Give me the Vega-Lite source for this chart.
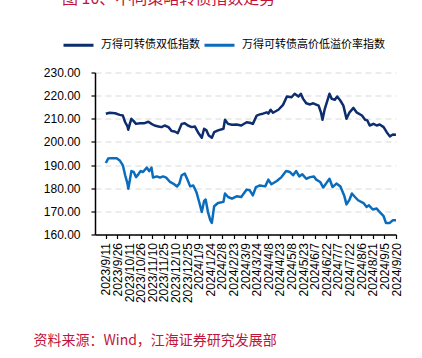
{
  "$schema": "https://vega.github.io/schema/vega-lite/v6.json",
  "autosize": "none",
  "width": 301,
  "height": 162,
  "padding": {"left": 95, "top": 72.5, "right": 26, "bottom": 123.5},
  "background": "white",
  "title": {
    "text": "图 10、不同策略转债指数走势",
    "anchor": "start",
    "frame": "group",
    "font": "Noto Sans CJK SC",
    "fontSize": 16,
    "fontWeight": "normal",
    "color": "#c0143c",
    "dx": -33,
    "dy": -18
  },
  "config": {
    "view": {"stroke": null},
    "font": "Liberation Sans"
  },
  "data": {
    "values": [
      {"date": "2023-09-11", "series": "万得可转债双低指数", "value": 212.2},
      {"date": "2023-09-16", "series": "万得可转债双低指数", "value": 212.6},
      {"date": "2023-09-23", "series": "万得可转债双低指数", "value": 212.4},
      {"date": "2023-09-29", "series": "万得可转债双低指数", "value": 211.7},
      {"date": "2023-10-03", "series": "万得可转债双低指数", "value": 211.4},
      {"date": "2023-10-06", "series": "万得可转债双低指数", "value": 208.5},
      {"date": "2023-10-09", "series": "万得可转债双低指数", "value": 206.7},
      {"date": "2023-10-10", "series": "万得可转债双低指数", "value": 205.3},
      {"date": "2023-10-12", "series": "万得可转债双低指数", "value": 207.8},
      {"date": "2023-10-14", "series": "万得可转债双低指数", "value": 210.0},
      {"date": "2023-10-17", "series": "万得可转债双低指数", "value": 209.0},
      {"date": "2023-10-20", "series": "万得可转债双低指数", "value": 207.8},
      {"date": "2023-10-25", "series": "万得可转债双低指数", "value": 208.1},
      {"date": "2023-10-31", "series": "万得可转债双低指数", "value": 208.1},
      {"date": "2023-11-05", "series": "万得可转债双低指数", "value": 208.7},
      {"date": "2023-11-09", "series": "万得可转债双低指数", "value": 207.8},
      {"date": "2023-11-13", "series": "万得可转债双低指数", "value": 207.1},
      {"date": "2023-11-18", "series": "万得可转债双低指数", "value": 206.7},
      {"date": "2023-11-22", "series": "万得可转债双低指数", "value": 206.4},
      {"date": "2023-11-26", "series": "万得可转债双低指数", "value": 207.1},
      {"date": "2023-12-01", "series": "万得可转债双低指数", "value": 206.4},
      {"date": "2023-12-05", "series": "万得可转债双低指数", "value": 204.7},
      {"date": "2023-12-09", "series": "万得可转债双低指数", "value": 204.5},
      {"date": "2023-12-13", "series": "万得可转债双低指数", "value": 203.8},
      {"date": "2023-12-18", "series": "万得可转债双低指数", "value": 207.8},
      {"date": "2023-12-22", "series": "万得可转债双低指数", "value": 208.1},
      {"date": "2023-12-26", "series": "万得可转债双低指数", "value": 207.1},
      {"date": "2023-12-31", "series": "万得可转债双低指数", "value": 206.4},
      {"date": "2024-01-04", "series": "万得可转债双低指数", "value": 206.7},
      {"date": "2024-01-08", "series": "万得可转债双低指数", "value": 204.2},
      {"date": "2024-01-13", "series": "万得可转债双低指数", "value": 201.8},
      {"date": "2024-01-16", "series": "万得可转债双低指数", "value": 205.7},
      {"date": "2024-01-19", "series": "万得可转债双低指数", "value": 205.0},
      {"date": "2024-01-22", "series": "万得可转债双低指数", "value": 202.8},
      {"date": "2024-01-26", "series": "万得可转债双低指数", "value": 201.8},
      {"date": "2024-01-29", "series": "万得可转债双低指数", "value": 204.2},
      {"date": "2024-02-03", "series": "万得可转债双低指数", "value": 205.0},
      {"date": "2024-02-10", "series": "万得可转债双低指数", "value": 205.7},
      {"date": "2024-02-12", "series": "万得可转债双低指数", "value": 209.6},
      {"date": "2024-02-16", "series": "万得可转债双低指数", "value": 207.8},
      {"date": "2024-02-21", "series": "万得可转债双低指数", "value": 207.4},
      {"date": "2024-02-27", "series": "万得可转债双低指数", "value": 207.5},
      {"date": "2024-03-04", "series": "万得可转债双低指数", "value": 207.1},
      {"date": "2024-03-11", "series": "万得可转债双低指数", "value": 208.5},
      {"date": "2024-03-15", "series": "万得可转债双低指数", "value": 208.3},
      {"date": "2024-03-19", "series": "万得可转债双低指数", "value": 207.8},
      {"date": "2024-03-24", "series": "万得可转债双低指数", "value": 211.4},
      {"date": "2024-03-28", "series": "万得可转债双低指数", "value": 211.9},
      {"date": "2024-04-01", "series": "万得可转债双低指数", "value": 212.2},
      {"date": "2024-04-06", "series": "万得可转债双低指数", "value": 212.8},
      {"date": "2024-04-08", "series": "万得可转债双低指数", "value": 212.2},
      {"date": "2024-04-11", "series": "万得可转债双低指数", "value": 213.9},
      {"date": "2024-04-14", "series": "万得可转债双低指数", "value": 212.6},
      {"date": "2024-04-21", "series": "万得可转债双低指数", "value": 213.9},
      {"date": "2024-04-27", "series": "万得可转债双低指数", "value": 216.0},
      {"date": "2024-05-02", "series": "万得可转债双低指数", "value": 219.6},
      {"date": "2024-05-08", "series": "万得可转债双低指数", "value": 219.3},
      {"date": "2024-05-12", "series": "万得可转债双低指数", "value": 220.8},
      {"date": "2024-05-17", "series": "万得可转债双低指数", "value": 219.6},
      {"date": "2024-05-20", "series": "万得可转债双低指数", "value": 220.8},
      {"date": "2024-05-23", "series": "万得可转债双低指数", "value": 218.6},
      {"date": "2024-05-27", "series": "万得可转债双低指数", "value": 216.7},
      {"date": "2024-06-01", "series": "万得可转债双低指数", "value": 216.2},
      {"date": "2024-06-05", "series": "万得可转债双低指数", "value": 216.7},
      {"date": "2024-06-12", "series": "万得可转债双低指数", "value": 215.7},
      {"date": "2024-06-15", "series": "万得可转债双低指数", "value": 212.8},
      {"date": "2024-06-17", "series": "万得可转债双低指数", "value": 209.6},
      {"date": "2024-06-20", "series": "万得可转债双低指数", "value": 214.3},
      {"date": "2024-06-26", "series": "万得可转债双低指数", "value": 220.8},
      {"date": "2024-06-29", "series": "万得可转债双低指数", "value": 218.6},
      {"date": "2024-07-03", "series": "万得可转债双低指数", "value": 218.2},
      {"date": "2024-07-06", "series": "万得可转债双低指数", "value": 219.6},
      {"date": "2024-07-10", "series": "万得可转债双低指数", "value": 217.9},
      {"date": "2024-07-14", "series": "万得可转债双低指数", "value": 215.7},
      {"date": "2024-07-18", "series": "万得可转债双低指数", "value": 210.0},
      {"date": "2024-07-22", "series": "万得可转债双低指数", "value": 212.8},
      {"date": "2024-07-27", "series": "万得可转债双低指数", "value": 214.7},
      {"date": "2024-07-31", "series": "万得可转债双低指数", "value": 212.8},
      {"date": "2024-08-07", "series": "万得可转债双低指数", "value": 211.4},
      {"date": "2024-08-11", "series": "万得可转债双低指数", "value": 209.6},
      {"date": "2024-08-14", "series": "万得可转债双低指数", "value": 209.3},
      {"date": "2024-08-17", "series": "万得可转债双低指数", "value": 207.1},
      {"date": "2024-08-22", "series": "万得可转债双低指数", "value": 207.8},
      {"date": "2024-08-26", "series": "万得可转债双低指数", "value": 207.1},
      {"date": "2024-08-30", "series": "万得可转债双低指数", "value": 207.5},
      {"date": "2024-09-04", "series": "万得可转债双低指数", "value": 206.4},
      {"date": "2024-09-08", "series": "万得可转债双低指数", "value": 204.2},
      {"date": "2024-09-12", "series": "万得可转债双低指数", "value": 202.4},
      {"date": "2024-09-16", "series": "万得可转债双低指数", "value": 203.2},
      {"date": "2024-09-20", "series": "万得可转债双低指数", "value": 203.1},

      {"date": "2023-09-11", "series": "万得可转债高价低溢价率指数", "value": 190.9},
      {"date": "2023-09-14", "series": "万得可转债高价低溢价率指数", "value": 192.8},
      {"date": "2023-09-18", "series": "万得可转债高价低溢价率指数", "value": 193.0},
      {"date": "2023-09-25", "series": "万得可转债高价低溢价率指数", "value": 193.0},
      {"date": "2023-09-29", "series": "万得可转债高价低溢价率指数", "value": 192.0},
      {"date": "2023-10-03", "series": "万得可转债高价低溢价率指数", "value": 189.9},
      {"date": "2023-10-06", "series": "万得可转债高价低溢价率指数", "value": 185.6},
      {"date": "2023-10-09", "series": "万得可转债高价低溢价率指数", "value": 182.0},
      {"date": "2023-10-10", "series": "万得可转债高价低溢价率指数", "value": 179.8},
      {"date": "2023-10-12", "series": "万得可转债高价低溢价率指数", "value": 183.4},
      {"date": "2023-10-14", "series": "万得可转债高价低溢价率指数", "value": 187.4},
      {"date": "2023-10-17", "series": "万得可转债高价低溢价率指数", "value": 187.0},
      {"date": "2023-10-20", "series": "万得可转债高价低溢价率指数", "value": 184.8},
      {"date": "2023-10-23", "series": "万得可转债高价低溢价率指数", "value": 186.0},
      {"date": "2023-10-26", "series": "万得可转债高价低溢价率指数", "value": 187.4},
      {"date": "2023-10-29", "series": "万得可转债高价低溢价率指数", "value": 187.0},
      {"date": "2023-11-03", "series": "万得可转债高价低溢价率指数", "value": 188.9},
      {"date": "2023-11-06", "series": "万得可转债高价低溢价率指数", "value": 187.4},
      {"date": "2023-11-09", "series": "万得可转债高价低溢价率指数", "value": 188.9},
      {"date": "2023-11-11", "series": "万得可转债高价低溢价率指数", "value": 184.6},
      {"date": "2023-11-16", "series": "万得可转债高价低溢价率指数", "value": 185.1},
      {"date": "2023-11-20", "series": "万得可转债高价低溢价率指数", "value": 184.6},
      {"date": "2023-11-24", "series": "万得可转债高价低溢价率指数", "value": 185.1},
      {"date": "2023-11-28", "series": "万得可转债高价低溢价率指数", "value": 184.6},
      {"date": "2023-12-03", "series": "万得可转债高价低溢价率指数", "value": 182.7},
      {"date": "2023-12-07", "series": "万得可转债高价低溢价率指数", "value": 182.0},
      {"date": "2023-12-12", "series": "万得可转债高价低溢价率指数", "value": 180.8},
      {"date": "2023-12-15", "series": "万得可转债高价低溢价率指数", "value": 182.0},
      {"date": "2023-12-18", "series": "万得可转债高价低溢价率指数", "value": 185.6},
      {"date": "2023-12-22", "series": "万得可转债高价低溢价率指数", "value": 186.3},
      {"date": "2023-12-25", "series": "万得可转债高价低溢价率指数", "value": 184.1},
      {"date": "2023-12-29", "series": "万得可转债高价低溢价率指数", "value": 180.8},
      {"date": "2024-01-02", "series": "万得可转债高价低溢价率指数", "value": 181.2},
      {"date": "2024-01-06", "series": "万得可转债高价低溢价率指数", "value": 178.4},
      {"date": "2024-01-10", "series": "万得可转债高价低溢价率指数", "value": 173.6},
      {"date": "2024-01-13", "series": "万得可转债高价低溢价率指数", "value": 169.7},
      {"date": "2024-01-16", "series": "万得可转债高价低溢价率指数", "value": 174.5},
      {"date": "2024-01-18", "series": "万得可转债高价低溢价率指数", "value": 175.1},
      {"date": "2024-01-21", "series": "万得可转债高价低溢价率指数", "value": 169.7},
      {"date": "2024-01-24", "series": "万得可转债高价低溢价率指数", "value": 166.2},
      {"date": "2024-01-26", "series": "万得可转债高价低溢价率指数", "value": 165.0},
      {"date": "2024-01-29", "series": "万得可转债高价低溢价率指数", "value": 172.2},
      {"date": "2024-02-03", "series": "万得可转债高价低溢价率指数", "value": 173.6},
      {"date": "2024-02-10", "series": "万得可转债高价低溢价率指数", "value": 174.1},
      {"date": "2024-02-12", "series": "万得可转债高价低溢价率指数", "value": 177.7},
      {"date": "2024-02-16", "series": "万得可转债高价低溢价率指数", "value": 176.2},
      {"date": "2024-02-21", "series": "万得可转债高价低溢价率指数", "value": 175.5},
      {"date": "2024-02-27", "series": "万得可转债高价低溢价率指数", "value": 176.5},
      {"date": "2024-03-04", "series": "万得可转债高价低溢价率指数", "value": 176.2},
      {"date": "2024-03-11", "series": "万得可转债高价低溢价率指数", "value": 179.4},
      {"date": "2024-03-15", "series": "万得可转债高价低溢价率指数", "value": 179.1},
      {"date": "2024-03-19", "series": "万得可转债高价低溢价率指数", "value": 176.9},
      {"date": "2024-03-23", "series": "万得可转债高价低溢价率指数", "value": 180.5},
      {"date": "2024-03-28", "series": "万得可转债高价低溢价率指数", "value": 181.2},
      {"date": "2024-04-04", "series": "万得可转债高价低溢价率指数", "value": 180.8},
      {"date": "2024-04-08", "series": "万得可转债高价低溢价率指数", "value": 183.7},
      {"date": "2024-04-12", "series": "万得可转债高价低溢价率指数", "value": 181.7},
      {"date": "2024-04-19", "series": "万得可转债高价低溢价率指数", "value": 183.1},
      {"date": "2024-04-25", "series": "万得可转债高价低溢价率指数", "value": 184.8},
      {"date": "2024-05-01", "series": "万得可转债高价低溢价率指数", "value": 187.4},
      {"date": "2024-05-06", "series": "万得可转债高价低溢价率指数", "value": 187.0},
      {"date": "2024-05-10", "series": "万得可转债高价低溢价率指数", "value": 185.6},
      {"date": "2024-05-14", "series": "万得可转债高价低溢价率指数", "value": 187.4},
      {"date": "2024-05-18", "series": "万得可转债高价低溢价率指数", "value": 185.1},
      {"date": "2024-05-22", "series": "万得可转债高价低溢价率指数", "value": 186.0},
      {"date": "2024-05-27", "series": "万得可转债高价低溢价率指数", "value": 184.1},
      {"date": "2024-06-01", "series": "万得可转债高价低溢价率指数", "value": 184.8},
      {"date": "2024-06-06", "series": "万得可转债高价低溢价率指数", "value": 185.1},
      {"date": "2024-06-09", "series": "万得可转债高价低溢价率指数", "value": 183.7},
      {"date": "2024-06-14", "series": "万得可转债高价低溢价率指数", "value": 182.7},
      {"date": "2024-06-18", "series": "万得可转债高价低溢价率指数", "value": 180.3},
      {"date": "2024-06-22", "series": "万得可转债高价低溢价率指数", "value": 182.2},
      {"date": "2024-06-26", "series": "万得可转债高价低溢价率指数", "value": 184.1},
      {"date": "2024-06-30", "series": "万得可转债高价低溢价率指数", "value": 180.5},
      {"date": "2024-07-05", "series": "万得可转债高价低溢价率指数", "value": 182.0},
      {"date": "2024-07-10", "series": "万得可转债高价低溢价率指数", "value": 180.8},
      {"date": "2024-07-15", "series": "万得可转债高价低溢价率指数", "value": 176.9},
      {"date": "2024-07-18", "series": "万得可转债高价低溢价率指数", "value": 173.0},
      {"date": "2024-07-22", "series": "万得可转债高价低溢价率指数", "value": 175.1},
      {"date": "2024-07-25", "series": "万得可转债高价低溢价率指数", "value": 177.7},
      {"date": "2024-07-29", "series": "万得可转债高价低溢价率指数", "value": 176.2},
      {"date": "2024-08-02", "series": "万得可转债高价低溢价率指数", "value": 174.8},
      {"date": "2024-08-09", "series": "万得可转债高价低溢价率指数", "value": 173.6},
      {"date": "2024-08-13", "series": "万得可转债高价低溢价率指数", "value": 171.9},
      {"date": "2024-08-16", "series": "万得可转债高价低溢价率指数", "value": 172.6},
      {"date": "2024-08-21", "series": "万得可转债高价低溢价率指数", "value": 170.8},
      {"date": "2024-08-26", "series": "万得可转债高价低溢价率指数", "value": 171.2},
      {"date": "2024-08-31", "series": "万得可转债高价低溢价率指数", "value": 169.3},
      {"date": "2024-09-04", "series": "万得可转债高价低溢价率指数", "value": 167.9},
      {"date": "2024-09-07", "series": "万得可转债高价低溢价率指数", "value": 165.0},
      {"date": "2024-09-12", "series": "万得可转债高价低溢价率指数", "value": 165.0},
      {"date": "2024-09-16", "series": "万得可转债高价低溢价率指数", "value": 166.2},
      {"date": "2024-09-20", "series": "万得可转债高价低溢价率指数", "value": 166.2}
    ]
  },
  "mark": {"type": "line", "strokeWidth": 2.5, "strokeJoin": "round", "clip": true},
  "encoding": {
    "x": {
      "field": "date",
      "type": "temporal",
      "scale": {
        "type": "utc",
        "domain": [
          {"year": 2023, "month": 8, "date": 28, "utc": true},
          {"year": 2024, "month": 9, "date": 20, "utc": true}
        ]
      },
      "axis": {
        "values": [
          {"year": 2023, "month": 9, "date": 11, "utc": true},
          {"year": 2023, "month": 9, "date": 26, "utc": true},
          {"year": 2023, "month": 10, "date": 11, "utc": true},
          {"year": 2023, "month": 10, "date": 26, "utc": true},
          {"year": 2023, "month": 11, "date": 10, "utc": true},
          {"year": 2023, "month": 11, "date": 25, "utc": true},
          {"year": 2023, "month": 12, "date": 10, "utc": true},
          {"year": 2023, "month": 12, "date": 25, "utc": true},
          {"year": 2024, "month": 1, "date": 9, "utc": true},
          {"year": 2024, "month": 1, "date": 24, "utc": true},
          {"year": 2024, "month": 2, "date": 8, "utc": true},
          {"year": 2024, "month": 2, "date": 23, "utc": true},
          {"year": 2024, "month": 3, "date": 9, "utc": true},
          {"year": 2024, "month": 3, "date": 24, "utc": true},
          {"year": 2024, "month": 4, "date": 8, "utc": true},
          {"year": 2024, "month": 4, "date": 23, "utc": true},
          {"year": 2024, "month": 5, "date": 8, "utc": true},
          {"year": 2024, "month": 5, "date": 23, "utc": true},
          {"year": 2024, "month": 6, "date": 7, "utc": true},
          {"year": 2024, "month": 6, "date": 22, "utc": true},
          {"year": 2024, "month": 7, "date": 7, "utc": true},
          {"year": 2024, "month": 7, "date": 22, "utc": true},
          {"year": 2024, "month": 8, "date": 6, "utc": true},
          {"year": 2024, "month": 8, "date": 21, "utc": true},
          {"year": 2024, "month": 9, "date": 5, "utc": true},
          {"year": 2024, "month": 9, "date": 20, "utc": true}
        ],
        "format": "%Y/%-m/%-d",
        "labelAngle": -90,
        "labelFont": "Liberation Sans",
        "labelFontSize": 12,
        "labelColor": "#000000",
        "labelPadding": 4,
        "labelOverlap": false,
        "labelBound": false,
        "labelFlush": false,
        "domainColor": "#000000",
        "domainWidth": 1.5,
        "tickColor": "#000000",
        "tickWidth": 1.2,
        "tickSize": 4,
        "grid": false,
        "title": "资料来源：Wind，江海证券研究发展部",
        "titleFont": "Noto Sans CJK SC",
        "titleFontSize": 14,
        "titleFontWeight": "normal",
        "titleColor": "#c0143c",
        "titleAnchor": "start",
        "titleAlign": "left",
        "titleBaseline": "middle",
        "titleAngle": 0,
        "titleX": -62,
        "titleY": 106
      }
    },
    "y": {
      "field": "value",
      "type": "quantitative",
      "scale": {"domain": [160, 230], "nice": false, "zero": false},
      "axis": {
        "values": [160, 170, 180, 190, 200, 210, 220, 230],
        "format": ".2f",
        "labelFont": "Liberation Sans",
        "labelFontSize": 12,
        "labelColor": "#000000",
        "labelPadding": 11,
        "domainColor": "#000000",
        "domainWidth": 1.5,
        "tickColor": "#000000",
        "tickWidth": 1.2,
        "tickSize": 4,
        "grid": true,
        "gridColor": "#d9d9d9",
        "gridDash": [6, 4],
        "gridWidth": 1,
        "title": null
      }
    },
    "color": {
      "field": "series",
      "type": "nominal",
      "sort": ["万得可转债双低指数", "万得可转债高价低溢价率指数"],
      "scale": {
        "domain": ["万得可转债双低指数", "万得可转债高价低溢价率指数"],
        "range": ["#0d2e6e", "#0a6cbc"]
      },
      "legend": {
        "orient": "none",
        "legendX": -33,
        "legendY": -44,
        "direction": "horizontal",
        "title": null,
        "symbolType": "stroke",
        "symbolSize": 900,
        "symbolStrokeWidth": 3,
        "labelFont": "Noto Sans CJK SC",
        "labelFontSize": 11,
        "labelColor": "#000000",
        "labelOffset": 6,
        "columnPadding": -2
      }
    }
  }
}
